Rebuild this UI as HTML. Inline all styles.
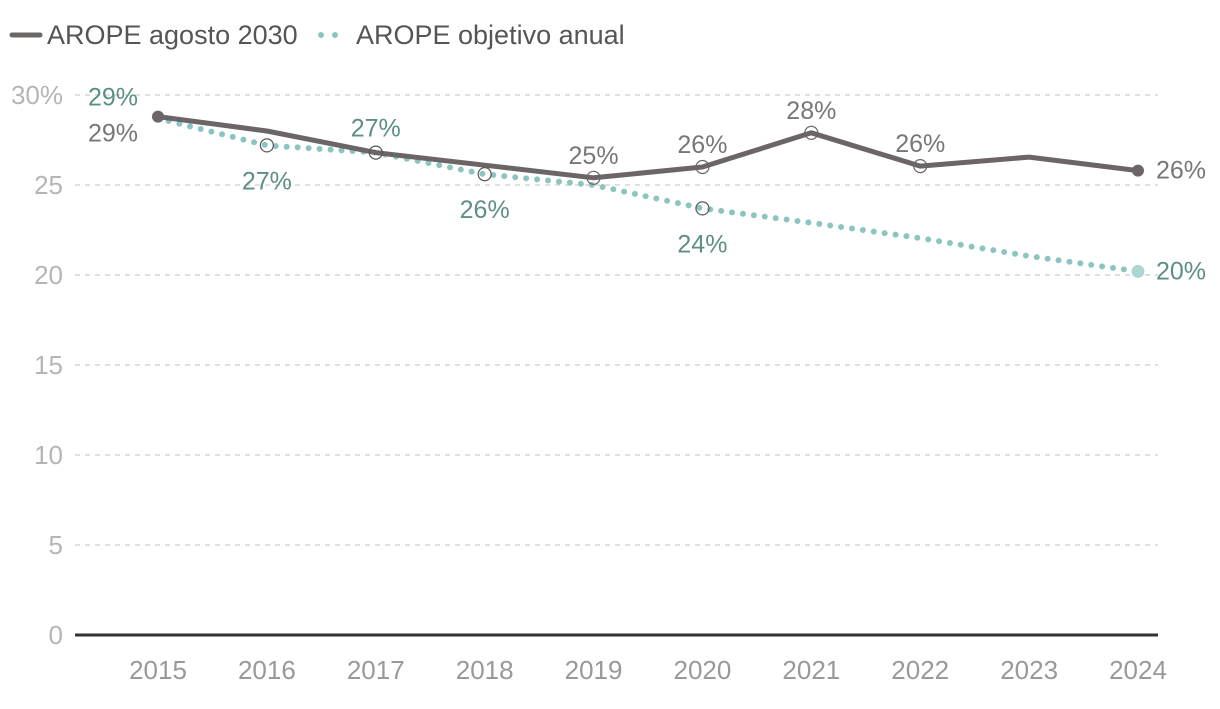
<!DOCTYPE html>
<html><head><meta charset="utf-8"><style>
body{margin:0;background:#fff;width:1220px;height:704px;overflow:hidden;font-family:"Liberation Sans",sans-serif}
</style></head><body>
<svg id="chart" width="1220" height="704" xmlns="http://www.w3.org/2000/svg" font-family="Liberation Sans, sans-serif"></svg>
<script>
const years=[2015,2016,2017,2018,2019,2020,2021,2022,2023,2024];
const aropeValues=[28.8,28.0,26.8,26.1,25.4,26.0,27.9,26.05,26.55,25.8];
const objetivoValues=[28.7,27.2,26.8,25.6,25.0,23.7,22.9,22.05,21.05,20.2];
const yTicks=[0,5,10,15,20,25,30];
const aropeLabels=["29%","","","","25%","26%","28%","26%","","26%"];
const objetivoLabels=["29%","27%","27%","26%","","24%","","","","20%"];
const NS="http://www.w3.org/2000/svg";
const svg=document.getElementById('chart');
const x=i=>158+i*(1138-158)/(years.length-1);
const y=v=>635-v*18;
function el(t,a,p){const e=document.createElementNS(NS,t);for(const k in a)e.setAttribute(k,a[k]);(p||svg).appendChild(e);return e;}
function txt(s,a){const e=el('text',a);e.textContent=s;return e;}
yTicks.forEach(v=>{
 if(v>0){const g=el('line',{x1:75,x2:1158,y1:y(v),y2:y(v),stroke:'#ccc','stroke-width':1.2,'stroke-dasharray':'5,5'});
 }
 const t=txt(v===30?'30%':String(v),{x:63,y:y(v)+9,'text-anchor':'end','font-size':26,fill:'#b5b5b5'});
 
});
const ax=el('line',{x1:75,x2:1158,y1:635,y2:635,stroke:'#333','stroke-width':3});

years.forEach((yr,i)=>{const t=txt(String(yr),{x:x(i),y:679,'text-anchor':'middle','font-size':26,fill:'#999'});
 });
const tp=el('polyline',{points:objetivoValues.map((v,i)=>x(i)+','+y(v)).join(' '),fill:'none',stroke:'#8cc5c0','stroke-width':6,'stroke-dasharray':'0,11','stroke-linecap':'round'});

const dp=el('polyline',{points:aropeValues.map((v,i)=>x(i)+','+y(v)).join(' '),fill:'none',stroke:'#6b6566','stroke-width':5,'stroke-linejoin':'round'});

const last=years.length-1;
aropeValues.forEach((v,i)=>{
 if(i===0||i===last){const c=el('circle',{cx:x(i),cy:y(v),r:6,fill:'#6b6566'});}
 else if(aropeLabels[i]){const c=el('circle',{cx:x(i),cy:y(v),r:6.5,fill:'none',stroke:'#6b6566','stroke-width':1.2});}
});
objetivoValues.forEach((v,i)=>{
 if(i===last){const c=el('circle',{cx:x(i),cy:y(v),r:6.5,fill:'#acd6d2'});}
 else if(i>0&&objetivoLabels[i]){const c=el('circle',{cx:x(i),cy:y(v),r:6.5,fill:'none',stroke:'#555','stroke-width':1.2});}
});
aropeLabels.forEach((s,i)=>{if(!s)return;let a={x:x(i),y:y(aropeValues[i])-14,'text-anchor':'middle','font-size':25,fill:'#777'};
 if(i===0){a.x=x(i)-45;a.y=y(aropeValues[i])+25;}
 if(i===last){a.x=x(i)+18;a.y=y(aropeValues[i])+8;a['text-anchor']='start';}
 const t=txt(s,a);});
objetivoLabels.forEach((s,i)=>{if(!s)return;const below=(i===1||i===3||i===5);
 let a={x:x(i),y:below?y(objetivoValues[i])+44:y(objetivoValues[i])-16,'text-anchor':'middle','font-size':25,fill:'#5d8f86'};
 if(i===0){a.x=x(i)-45;a.y=y(objetivoValues[i])-13;}
 if(i===last){a.x=x(i)+18;a.y=y(objetivoValues[i])+8;a['text-anchor']='start';}
 const t=txt(s,a);});
const l1=el('line',{x1:12,x2:40,y1:35,y2:35,stroke:'#6b6566','stroke-width':5,'stroke-linecap':'round'});

const lt1=txt('AROPE agosto 2030',{x:47,y:44,'font-size':27,fill:'#555'});

const l2=el('line',{x1:321,x2:336,y1:35,y2:35,stroke:'#8cc5c0','stroke-width':6,'stroke-dasharray':'0,14','stroke-linecap':'round'});

const lt2=txt('AROPE objetivo anual',{x:356,y:44,'font-size':27,fill:'#555'});

</script>
</body></html>
